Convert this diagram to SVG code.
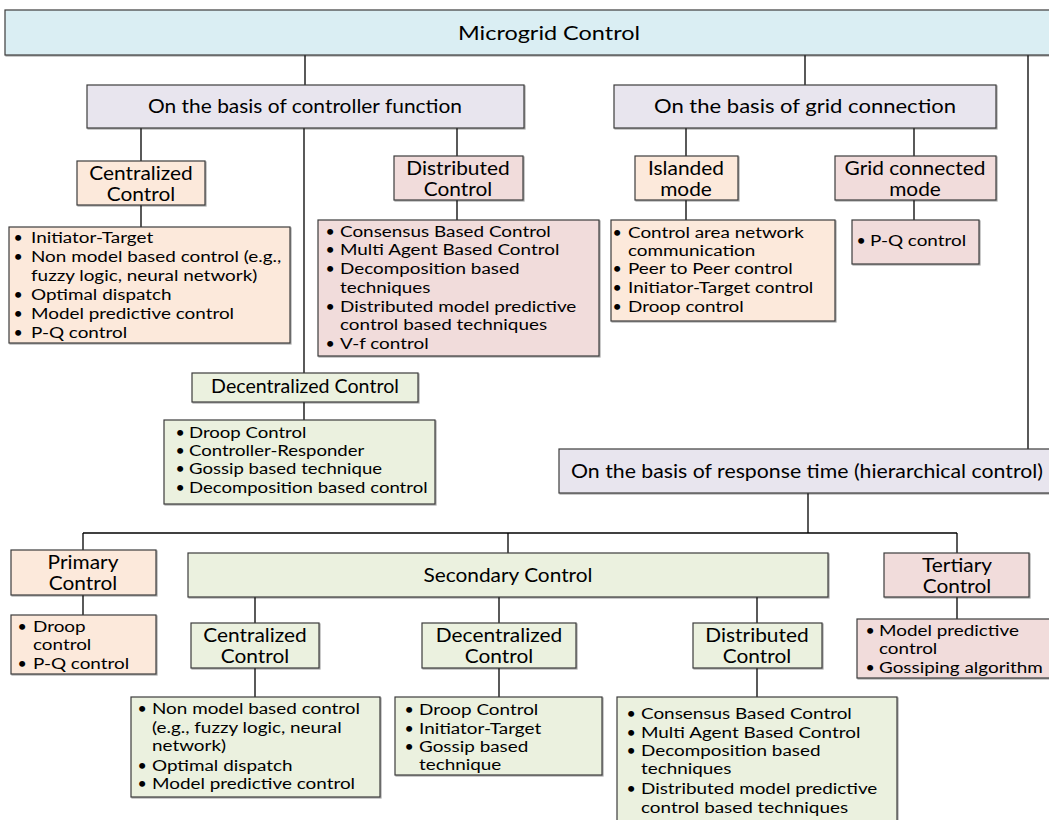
<svg xmlns="http://www.w3.org/2000/svg" width="1049" height="820" viewBox="0 0 1049 820">
  <defs>
    <filter id="sh" x="-5%" y="-5%" width="110%" height="120%">
      <feDropShadow dx="1" dy="1" stdDeviation="0.6" flood-color="#000" flood-opacity="0.35"/>
    </filter>
  </defs>
  <style>
    rect { stroke: #3c3c3c; stroke-width: 1.2; filter: url(#sh); }
    .blue { fill: #DAEEF3; }
    .lav { fill: #E8E5EE; }
    .peach { fill: #FCE9DB; }
    .pink { fill: #F1DCDB; }
    .green { fill: #EBF1DF; }
    text { font-family: Lato, "Liberation Sans", sans-serif; fill: #000; }
    .t1 { font-size: 20px; text-anchor: middle; }
    .t2 { font-size: 18.5px; text-anchor: middle; }
    .t3 { font-size: 16px; }
    .links line { stroke: #000; stroke-width: 1.3; }
  </style>

  <!-- connectors -->
  <g class="links">
    <line x1="305" y1="55" x2="305" y2="85"/>
    <line x1="805" y1="55" x2="805" y2="85"/>
    <line x1="1028" y1="55" x2="1028" y2="449"/>
    <line x1="141" y1="128" x2="141" y2="161"/>
    <line x1="304" y1="128" x2="304" y2="373"/>
    <line x1="457" y1="128" x2="457" y2="156"/>
    <line x1="141" y1="205" x2="141" y2="227"/>
    <line x1="457" y1="200" x2="457" y2="220"/>
    <line x1="304" y1="402" x2="304" y2="420"/>
    <line x1="686" y1="128" x2="686" y2="156"/>
    <line x1="686" y1="200" x2="686" y2="220"/>
    <line x1="914" y1="128" x2="914" y2="156"/>
    <line x1="914" y1="200" x2="914" y2="220"/>
    <line x1="808" y1="493" x2="808" y2="533"/>
    <line x1="83" y1="533" x2="957" y2="533"/>
    <line x1="83" y1="533" x2="83" y2="550"/>
    <line x1="83" y1="595" x2="83" y2="615"/>
    <line x1="508" y1="533" x2="508" y2="553"/>
    <line x1="957" y1="533" x2="957" y2="553"/>
    <line x1="957" y1="597" x2="957" y2="619"/>
    <line x1="255" y1="597" x2="255" y2="623"/>
    <line x1="255" y1="668" x2="255" y2="697"/>
    <line x1="499" y1="597" x2="499" y2="623"/>
    <line x1="499" y1="668" x2="499" y2="697"/>
    <line x1="757" y1="597" x2="757" y2="623"/>
    <line x1="757" y1="668" x2="757" y2="697"/>
  </g>

  <g id="microgrid-control">
    <rect class="blue" x="5" y="10" width="1050" height="45"/>
    <text class="t1" x="549" y="40" textLength="182" lengthAdjust="spacingAndGlyphs">Microgrid Control</text>
  </g>

  <g id="controller-function">
    <rect class="lav" x="87" y="85" width="437" height="43"/>
    <text class="t1" x="305" y="113" textLength="314" lengthAdjust="spacingAndGlyphs">On the basis of controller function</text>
  </g>

  <g id="grid-connection">
    <rect class="lav" x="614" y="85" width="382" height="43"/>
    <text class="t1" x="805" y="113" textLength="302" lengthAdjust="spacingAndGlyphs">On the basis of grid connection</text>
  </g>

  <g id="centralized">
    <rect class="peach" x="77" y="161" width="128" height="44"/>
    <g transform="translate(141 0) scale(1.13 1)" class="t2">
      <text x="0" y="180">Centralized</text>
      <text x="0" y="201">Control</text>
    </g>
  </g>

  <g id="centralized-list" class="t3">
    <rect class="peach" x="9" y="227" width="281" height="116"/>
    <text x="13.5" y="243">•</text>
    <text x="13.5" y="262">•</text>
    <text x="13.5" y="300">•</text>
    <text x="13.5" y="319">•</text>
    <text x="13.5" y="338">•</text>
    <g transform="translate(31 0) scale(1.18 1)">
      <text x="0" y="243">Initiator-Target</text>
      <text x="0" y="262">Non model based control (e.g.,</text>
      <text x="0" y="281">fuzzy logic, neural network)</text>
      <text x="0" y="300">Optimal dispatch</text>
      <text x="0" y="319">Model predictive control</text>
      <text x="0" y="338">P-Q control</text>
    </g>
  </g>

  <g id="distributed">
    <rect class="pink" x="394" y="156" width="129" height="44"/>
    <g transform="translate(458 0) scale(1.13 1)" class="t2">
      <text x="0" y="175">Distributed</text>
      <text x="0" y="196">Control</text>
    </g>
  </g>

  <g id="distributed-list" class="t3">
    <rect class="pink" x="318" y="220" width="281" height="136"/>
    <text x="325.5" y="237">•</text>
    <text x="325.5" y="255">•</text>
    <text x="325.5" y="274">•</text>
    <text x="325.5" y="312">•</text>
    <text x="325.5" y="349">•</text>
    <g transform="translate(340 0) scale(1.18 1)">
      <text x="0" y="237">Consensus Based Control</text>
      <text x="0" y="255">Multi Agent Based Control</text>
      <text x="0" y="274">Decomposition based</text>
      <text x="0" y="293">techniques</text>
      <text x="0" y="312">Distributed model predictive</text>
      <text x="0" y="330">control based techniques</text>
      <text x="0" y="349">V-f control</text>
    </g>
  </g>

  <g id="islanded">
    <rect class="peach" x="635" y="156" width="103" height="44"/>
    <g transform="translate(686 0) scale(1.13 1)" class="t2">
      <text x="0" y="175">Islanded</text>
      <text x="0" y="196">mode</text>
    </g>
  </g>

  <g id="islanded-list" class="t3">
    <rect class="peach" x="611" y="220" width="224" height="101"/>
    <text x="612.5" y="238">•</text>
    <text x="612.5" y="274">•</text>
    <text x="612.5" y="293">•</text>
    <text x="612.5" y="312">•</text>
    <g transform="translate(628 0) scale(1.18 1)">
      <text x="0" y="238">Control area network</text>
      <text x="0" y="256">communication</text>
      <text x="0" y="274">Peer to Peer control</text>
      <text x="0" y="293">Initiator-Target control</text>
      <text x="0" y="312">Droop control</text>
    </g>
  </g>

  <g id="grid-connected">
    <rect class="pink" x="835" y="156" width="161" height="44"/>
    <g transform="translate(915 0) scale(1.13 1)" class="t2">
      <text x="0" y="175">Grid connected</text>
      <text x="0" y="196">mode</text>
    </g>
  </g>

  <g id="grid-connected-list" class="t3">
    <rect class="pink" x="852" y="220" width="127" height="44"/>
    <text x="856.5" y="246">•</text>
    <g transform="translate(870 0) scale(1.18 1)">
      <text x="0" y="246">P-Q control</text>
    </g>
  </g>

  <g id="decentralized">
    <rect class="green" x="192" y="373" width="226" height="29"/>
    <g transform="translate(305 0) scale(1.06 1)" class="t2">
      <text x="0" y="393">Decentralized Control</text>
    </g>
  </g>

  <g id="decentralized-list" class="t3">
    <rect class="green" x="164" y="420" width="271" height="84"/>
    <text x="175.5" y="438">•</text>
    <text x="175.5" y="456">•</text>
    <text x="175.5" y="474">•</text>
    <text x="175.5" y="493">•</text>
    <g transform="translate(189 0) scale(1.16 1)">
      <text x="0" y="438">Droop Control</text>
      <text x="0" y="456">Controller-Responder</text>
      <text x="0" y="474">Gossip based technique</text>
      <text x="0" y="493">Decomposition based control</text>
    </g>
  </g>

  <g id="response-time">
    <rect class="lav" x="559" y="449" width="496" height="44"/>
    <text class="t1" x="807" y="478" textLength="472" lengthAdjust="spacingAndGlyphs">On the basis of response time (hierarchical control)</text>
  </g>

  <g id="primary">
    <rect class="peach" x="11" y="550" width="145" height="45"/>
    <g transform="translate(83 0) scale(1.13 1)" class="t2">
      <text x="0" y="569">Primary</text>
      <text x="0" y="590">Control</text>
    </g>
  </g>

  <g id="primary-list" class="t3">
    <rect class="peach" x="11" y="615" width="145" height="59"/>
    <text x="17.5" y="632">•</text>
    <text x="17.5" y="669">•</text>
    <g transform="translate(33 0) scale(1.18 1)">
      <text x="0" y="632">Droop</text>
      <text x="0" y="650">control</text>
      <text x="0" y="669">P-Q control</text>
    </g>
  </g>

  <g id="secondary">
    <rect class="green" x="188" y="553" width="640" height="44"/>
    <text class="t1" x="508" y="582" textLength="169" lengthAdjust="spacingAndGlyphs">Secondary Control</text>
  </g>

  <g id="tertiary">
    <rect class="pink" x="884" y="553" width="145" height="44"/>
    <g transform="translate(957 0) scale(1.13 1)" class="t2">
      <text x="0" y="572">Tertiary</text>
      <text x="0" y="593">Control</text>
    </g>
  </g>

  <g id="tertiary-list" class="t3">
    <rect class="pink" x="857" y="619" width="196" height="59"/>
    <text x="865.5" y="636">•</text>
    <text x="865.5" y="673">•</text>
    <g transform="translate(879 0) scale(1.18 1)">
      <text x="0" y="636">Model predictive</text>
      <text x="0" y="654">control</text>
      <text x="0" y="673">Gossiping algorithm</text>
    </g>
  </g>

  <g id="secondary-centralized">
    <rect class="green" x="191" y="623" width="128" height="45"/>
    <g transform="translate(255 0) scale(1.13 1)" class="t2">
      <text x="0" y="642">Centralized</text>
      <text x="0" y="663">Control</text>
    </g>
  </g>

  <g id="secondary-centralized-list" class="t3">
    <rect class="green" x="131" y="697" width="249" height="100"/>
    <text x="137.5" y="714">•</text>
    <text x="137.5" y="771">•</text>
    <text x="137.5" y="789">•</text>
    <g transform="translate(152 0) scale(1.18 1)">
      <text x="0" y="714">Non model based control</text>
      <text x="0" y="733">(e.g., fuzzy logic, neural</text>
      <text x="0" y="751">network)</text>
      <text x="0" y="771">Optimal dispatch</text>
      <text x="0" y="789">Model predictive control</text>
    </g>
  </g>

  <g id="secondary-decentralized">
    <rect class="green" x="422" y="623" width="154" height="45"/>
    <g transform="translate(499 0) scale(1.13 1)" class="t2">
      <text x="0" y="642">Decentralized</text>
      <text x="0" y="663">Control</text>
    </g>
  </g>

  <g id="secondary-decentralized-list" class="t3">
    <rect class="green" x="395" y="697" width="207" height="78"/>
    <text x="404.5" y="715">•</text>
    <text x="404.5" y="734">•</text>
    <text x="404.5" y="752">•</text>
    <g transform="translate(419 0) scale(1.18 1)">
      <text x="0" y="715">Droop Control</text>
      <text x="0" y="734">Initiator-Target</text>
      <text x="0" y="752">Gossip based</text>
      <text x="0" y="770">technique</text>
    </g>
  </g>

  <g id="secondary-distributed">
    <rect class="green" x="693" y="623" width="129" height="45"/>
    <g transform="translate(757 0) scale(1.13 1)" class="t2">
      <text x="0" y="642">Distributed</text>
      <text x="0" y="663">Control</text>
    </g>
  </g>

  <g id="secondary-distributed-list" class="t3">
    <rect class="green" x="617" y="697" width="280" height="130"/>
    <text x="626.5" y="719">•</text>
    <text x="626.5" y="738">•</text>
    <text x="626.5" y="756">•</text>
    <text x="626.5" y="794">•</text>
    <g transform="translate(641 0) scale(1.18 1)">
      <text x="0" y="719">Consensus Based Control</text>
      <text x="0" y="738">Multi Agent Based Control</text>
      <text x="0" y="756">Decomposition based</text>
      <text x="0" y="774">techniques</text>
      <text x="0" y="794">Distributed model predictive</text>
      <text x="0" y="813">control based techniques</text>
    </g>
  </g>
</svg>
